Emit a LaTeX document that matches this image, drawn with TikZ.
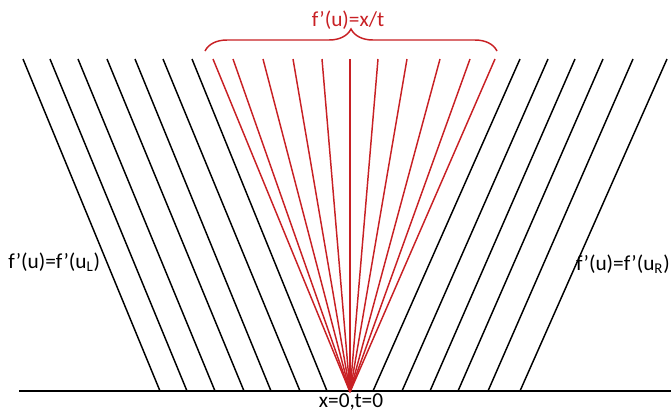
\documentclass[tikz,border=0pt]{standalone}
\usepackage{fontspec}
\setmainfont{Carlito}
\usepackage{xcolor}
\usetikzlibrary{decorations.pathreplacing}

\definecolor{fanred}{RGB}{200,32,36}

\begin{document}
\begin{tikzpicture}[x=0.75pt, y=-0.75pt,
    charac/.style={line width=1.1pt},
    fan/.style={charac, draw=fanred},
    lbl/.style={font=\fontsize{16}{19}\selectfont, inner sep=0pt}]
    \useasboundingbox (0,0) rectangle (671,412);

    % initial line t=0
    \coordinate (axL) at (19,391);
    \coordinate (axR) at (671,391);
    \coordinate (O) at (350,392);
    \draw[line width=1.5pt] (axL) -- (axR);

    % characteristics from the left state
    \foreach \i/\xt/\xb in {1/23/160, 2/50/187, 3/78/215, 4/107/244,
                            5/135/271, 6/163/300, 7/192/327} {
        \coordinate (L\i top) at (\xt,59);
        \coordinate (L\i bot) at (\xb,391);
        \draw[charac] (L\i top) -- (L\i bot);
    }

    % characteristics from the right state
    \foreach \i/\xt/\xb in {1/520/373, 2/548/402, 3/575/430,
                            4/603/458, 5/633/488, 6/667/520} {
        \coordinate (R\i top) at (\xt,59);
        \coordinate (R\i bot) at (\xb,391);
        \draw[charac] (R\i top) -- (R\i bot);
    }

    % rarefaction fan
    \foreach \i/\xt in {1/213, 2/233, 3/263, 4/293, 5/322, 6/350,
                        7/378, 8/407, 9/440, 10/470, 11/495} {
        \coordinate (F\i) at (\xt,59);
        \draw[fan] (F\i) -- (O);
    }

    \coordinate (br1) at (205,51);
    \coordinate (br2) at (497,51);
    \draw[fan, decorate, decoration={brace, amplitude=16.5pt}] (br1) -- (br2);

    \node[lbl, text=fanred] (slope) at (348,20) {f’(u)=x/t};
    \node[lbl, anchor=west] (left) at (8,262) {f’(u)=f’(u\textsubscript{L})};
    \node[lbl, anchor=east] (right) at (670,264) {f’(u)=f’(u\textsubscript{R})};
    \node[lbl] (origin) at (351,402) {x=0,t=0};
\end{tikzpicture}
\end{document}
